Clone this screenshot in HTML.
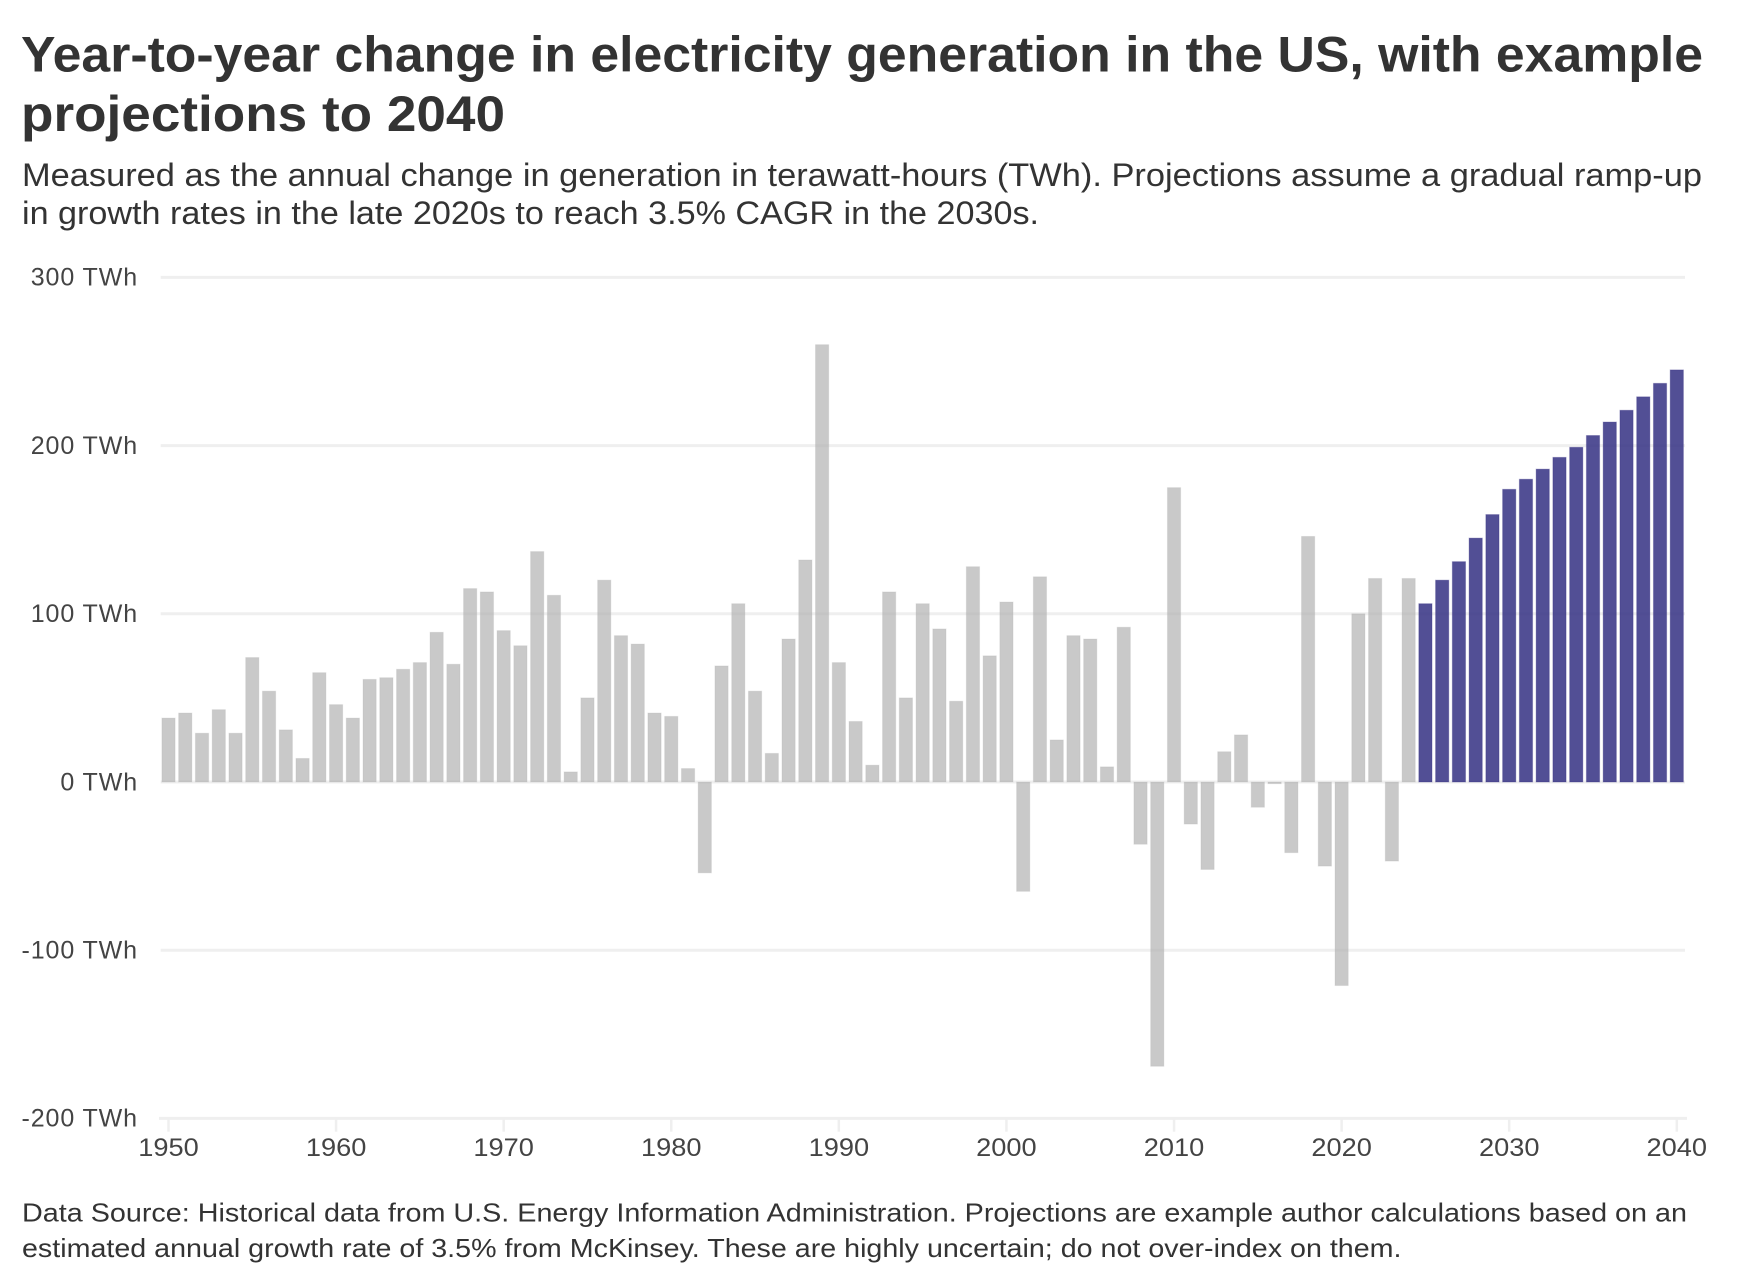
<!DOCTYPE html>
<html lang="en">
<head>
<meta charset="utf-8">
<title>Year-to-year change in electricity generation in the US</title>
<style>
  html, body { margin: 0; padding: 0; background: #fff; }
  svg { display: block; font-family: "Liberation Sans", Arial, sans-serif; }
  .title { font-size: 50px; font-weight: 700; fill: #333; }
  .sub { font-size: 32px; fill: #333; }
  .foot { font-size: 26px; fill: #333; }
  .tick { font-size: 25px; fill: #444; }
</style>
</head>
<body>
<svg id="chart" xmlns="http://www.w3.org/2000/svg" width="1744" height="1286" viewBox="0 0 1744 1286">
  <rect width="1744" height="1286" fill="#fff"/>
  <text class="title" x="21" y="71.5" textLength="1682" lengthAdjust="spacingAndGlyphs">Year-to-year change in electricity generation in the US, with example</text>
  <text class="title" x="21" y="131" textLength="484" lengthAdjust="spacingAndGlyphs">projections to 2040</text>
  <text class="sub" x="22" y="186" textLength="1680" lengthAdjust="spacingAndGlyphs">Measured as the annual change in generation in terawatt-hours (TWh). Projections assume a gradual ramp-up</text>
  <text class="sub" x="22" y="224" textLength="1017" lengthAdjust="spacingAndGlyphs">in growth rates in the late 2020s to reach 3.5% CAGR in the 2030s.</text>
  <g id="grid"></g>
  <g id="bars"></g>
  <g id="yaxis"></g>
  <g id="xaxis"></g>
  <text class="foot" x="22" y="1221.5" textLength="1665" lengthAdjust="spacingAndGlyphs">Data Source: Historical data from U.S. Energy Information Administration. Projections are example author calculations based on an</text>
  <text class="foot" x="22" y="1257" textLength="1379.5" lengthAdjust="spacingAndGlyphs">estimated annual growth rate of 3.5% from McKinsey. These are highly uncertain; do not over-index on them.</text>
</svg>
<script>
const firstYear = 1950;
const historical = [
  38, 41, 29, 43, 29, 74, 54, 31, 14, 65,
  46, 38, 61, 62, 67, 71, 89, 70, 115, 113,
  90, 81, 137, 111, 6, 50, 120, 87, 82, 41,
  39, 8, -54, 69, 106, 54, 17, 85, 132, 260,
  71, 36, 10, 113, 50, 106, 91, 48, 128, 75,
  107, -65, 122, 25, 87, 85, 9, 92, -37, -169,
  175, -25, -52, 18, 28, -15, -1, -42, 146, -50,
  -121, 100, 121, -47, 121
];
const projected = [106, 120, 131, 145, 159, 174, 180, 186, 193, 199, 206, 214, 221, 229, 237, 245];
const yTicks = [300, 200, 100, 0, -100, -200];
const xTicks = [1950, 1960, 1970, 1980, 1990, 2000, 2010, 2020, 2030, 2040];

const NS = 'http://www.w3.org/2000/svg';
const xScale = function (year) { return 168.5 + (year - 1950) * (1676.8 - 168.5) / 90; };
const yScale = function (v) { return 782 - v * (782 - 277.4) / 300; };
const barWidth = 13.2;

function make(tag, parent, attrs) {
  const el = document.createElementNS(NS, tag);
  for (const k in attrs) el.setAttribute(k, attrs[k]);
  parent.appendChild(el);
  return el;
}

const grid = document.getElementById('grid');
const yaxis = document.getElementById('yaxis');
const xaxis = document.getElementById('xaxis');
const bars = document.getElementById('bars');

yTicks.forEach(function (t) {
  const y = yScale(t);
  const isBottom = t === yTicks[yTicks.length - 1];
  const line = make('line', grid, { x1: isBottom ? 159 : 160.7, x2: isBottom ? 1687 : 1685, y1: y, y2: y, stroke: '#efefef', 'stroke-width': 3 });
  
  
  const label = make('text', yaxis, { class: 'tick', x: 138, y: y + 8.3, 'text-anchor': 'end', 'letter-spacing': 0.9 });
  label.textContent = t + ' TWh';
  
  
});

xTicks.forEach(function (yr) {
  const x = xScale(yr);
  const tick = make('line', xaxis, { x1: x, x2: x, y1: yScale(-200), y2: 1131.7, stroke: '#efefef', 'stroke-width': 2.5 });
  
  
  const label = make('text', xaxis, { class: 'tick', x: x, y: 1156, 'text-anchor': 'middle', textLength: 60.5, lengthAdjust: 'spacingAndGlyphs' });
  label.textContent = yr;
  
  
});

function drawBar(value, year, fill, opacity, edge) {
  const top = Math.min(yScale(value), yScale(0));
  const h = Math.abs(yScale(value) - yScale(0));
  const r = make('rect', bars, {
    x: xScale(year) - barWidth / 2, y: top, width: barWidth, height: h,
    fill: fill, 'fill-opacity': opacity, stroke: edge, 'stroke-width': 1
  });
  return r;
}

historical.forEach(function (v, i) {
  const r = drawBar(v, firstYear + i, '#b2b2b2', 0.7, 'rgba(178,178,178,0.25)');
  
  
});
projected.forEach(function (v, i) {
  const r = drawBar(v, firstYear + historical.length + i, '#343082', 0.85, 'rgba(52,48,130,0.3)');
  
  
});
</script>
</body>
</html>
